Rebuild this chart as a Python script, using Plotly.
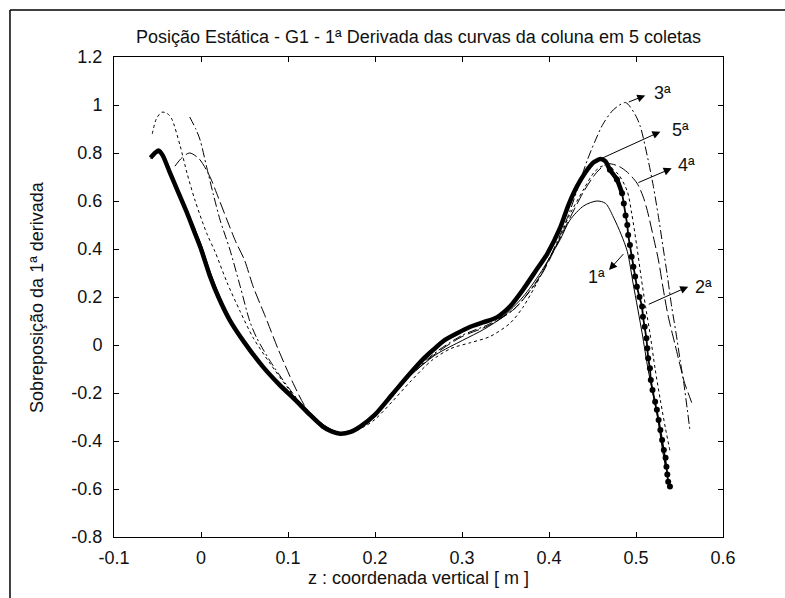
import plotly.graph_objects as go

# ---- data: first-derivative curves of the column, 5 collections ----
# 1st collection (thin solid)
x1 = [-0.058, -0.050, -0.045, -0.035, -0.016, 0.000, 0.012, 0.035, 0.070, 0.110,
      0.140, 0.160, 0.185, 0.210, 0.240, 0.270, 0.301, 0.325, 0.347, 0.370,
      0.390, 0.405, 0.413, 0.424, 0.440, 0.455, 0.465, 0.474, 0.483, 0.490,
      0.497, 0.507, 0.514, 0.524, 0.531, 0.534]
y1 = [0.775, 0.800, 0.795, 0.720, 0.560, 0.420, 0.290, 0.095, -0.080, -0.225,
      -0.330, -0.365, -0.335, -0.250, -0.130, -0.040, 0.020, 0.065, 0.117, 0.200,
      0.300, 0.390, 0.440, 0.520, 0.580, 0.600, 0.590, 0.533, 0.460, 0.390,
      0.250, 0.050, -0.104, -0.285, -0.450, -0.510]

# 2nd collection (dotted)
x2 = [-0.056, -0.051, -0.045, -0.039, -0.034, -0.024, -0.016, -0.007, 0.0066, 0.016,
      0.030, 0.045, 0.060, 0.080, 0.100, 0.120, 0.140, 0.160, 0.185, 0.200,
      0.220, 0.240, 0.265, 0.287, 0.310, 0.332, 0.355, 0.370, 0.386, 0.401,
      0.413, 0.422, 0.440, 0.452, 0.461, 0.470, 0.480, 0.490, 0.495, 0.501,
      0.506, 0.511, 0.516, 0.522, 0.528, 0.534, 0.539]
y2 = [0.880, 0.945, 0.970, 0.965, 0.945, 0.830, 0.715, 0.604, 0.465, 0.390,
      0.260, 0.140, 0.030, -0.080, -0.180, -0.270, -0.335, -0.370, -0.345, -0.310,
      -0.235, -0.155, -0.065, -0.015, 0.010, 0.035, 0.090, 0.157, 0.258, 0.367,
      0.450, 0.530, 0.650, 0.720, 0.745, 0.740, 0.710, 0.640, 0.550, 0.410,
      0.280, 0.160, 0.050, -0.100, -0.230, -0.350, -0.440]

# 3rd collection (dash-dot)
x3 = [-0.013, -0.006, -0.001, 0.0066, 0.014, 0.022, 0.033, 0.045, 0.056, 0.064,
      0.080, 0.100, 0.120, 0.140, 0.160, 0.185, 0.210, 0.240, 0.270, 0.300,
      0.330, 0.360, 0.390, 0.420, 0.444, 0.453, 0.462, 0.474, 0.488, 0.499,
      0.505, 0.514, 0.520, 0.526, 0.531, 0.536, 0.541, 0.546, 0.551, 0.555,
      0.559, 0.562]
y3 = [0.950, 0.900, 0.854, 0.740, 0.630, 0.520, 0.400, 0.245, 0.100, 0.030,
      -0.070, -0.175, -0.265, -0.335, -0.370, -0.340, -0.250, -0.125, -0.030, 0.040,
      0.085, 0.150, 0.290, 0.520, 0.770, 0.850, 0.920, 0.980, 1.010, 0.960,
      0.910, 0.770, 0.660, 0.530, 0.410, 0.290, 0.160, 0.050, -0.070, -0.160,
      -0.270, -0.355]

# 4th collection (dashed)
x4 = [-0.030, -0.022, -0.013, -0.002, 0.0104, 0.018, 0.030, 0.040, 0.050, 0.060,
      0.074, 0.089, 0.106, 0.122, 0.140, 0.160, 0.185, 0.210, 0.240, 0.270,
      0.300, 0.330, 0.360, 0.390, 0.420, 0.440, 0.455, 0.467, 0.480, 0.490,
      0.501, 0.508, 0.513, 0.520, 0.526, 0.531, 0.537, 0.545, 0.551, 0.556,
      0.560, 0.564]
y4 = [0.745, 0.780, 0.800, 0.775, 0.700, 0.632, 0.520, 0.430, 0.354, 0.243,
      0.118, -0.020, -0.160, -0.270, -0.340, -0.370, -0.340, -0.255, -0.130, -0.035,
      0.035, 0.080, 0.150, 0.285, 0.500, 0.640, 0.720, 0.755, 0.745, 0.720,
      0.675, 0.620, 0.560, 0.450, 0.350, 0.240, 0.120, 0.000, -0.090, -0.160,
      -0.200, -0.240]

# 5th collection (thick, point markers)
x5 = [-0.058, -0.053, -0.049, -0.044, -0.036, -0.026, -0.016, -0.008, 0.000, 0.010,
      0.020, 0.033, 0.050, 0.071, 0.090, 0.110, 0.125, 0.140, 0.150, 0.160,
      0.172, 0.183, 0.200, 0.220, 0.240, 0.255, 0.267, 0.280, 0.295, 0.309,
      0.325, 0.340, 0.355, 0.370, 0.385, 0.398, 0.413, 0.422, 0.432, 0.442,
      0.451, 0.459, 0.465, 0.470, 0.478, 0.484, 0.486, 0.488, 0.490, 0.491,
      0.493, 0.495, 0.497, 0.499, 0.501, 0.504, 0.507, 0.508, 0.510, 0.512,
      0.513, 0.514, 0.516, 0.517, 0.519, 0.522, 0.524, 0.526, 0.528, 0.530,
      0.532, 0.534, 0.535, 0.536, 0.537, 0.539]
y5 = [0.780, 0.800, 0.810, 0.790, 0.720, 0.635, 0.550, 0.475, 0.400, 0.290,
      0.200, 0.104, 0.010, -0.090, -0.165, -0.235, -0.290, -0.340, -0.360, -0.370,
      -0.362, -0.340, -0.290, -0.205, -0.120, -0.060, -0.020, 0.020, 0.050, 0.075,
      0.095, 0.115, 0.160, 0.230, 0.310, 0.380, 0.490, 0.580, 0.660, 0.720,
      0.760, 0.775, 0.765, 0.730, 0.690, 0.632, 0.590, 0.540, 0.500, 0.458,
      0.417, 0.368, 0.326, 0.285, 0.243, 0.200, 0.160, 0.118, 0.076, 0.028,
      -0.014, -0.055, -0.097, -0.146, -0.1875, -0.236, -0.270, -0.3125, -0.354, -0.396,
      -0.4375, -0.470, -0.507, -0.540, -0.570, -0.590]

# callouts: (label, arrow tail on curve, arrow head, label position)
labels = ["1ª", "2ª", "3ª", "4ª", "5ª"]
tail_x = [0.487, 0.513, 0.490, 0.501, 0.459]
tail_y = [0.385, 0.167, 1.010, 0.674, 0.775]
head_x = [0.469, 0.560, 0.5106, 0.541, 0.528]
head_y = [0.3125, 0.243, 1.040, 0.736, 0.889]
lab_x = [0.455, 0.578, 0.531, 0.558, 0.551]
lab_y = [0.285, 0.243, 1.049, 0.750, 0.896]

x_ticks = [-0.1, 0.0, 0.1, 0.2, 0.3, 0.4, 0.5, 0.6]
x_tick_text = ["-0.1", "0", "0.1", "0.2", "0.3", "0.4", "0.5", "0.6"]
y_ticks = [-0.8, -0.6, -0.4, -0.2, 0.0, 0.2, 0.4, 0.6, 0.8, 1.0, 1.2]
y_tick_text = ["-0.8", "-0.6", "-0.4", "-0.2", "0", "0.2", "0.4", "0.6", "0.8", "1", "1.2"]

FONT = "Liberation Sans, Arial, sans-serif"
INK = "#111111"
FS = 18

fig = go.Figure()

def curve(x, y, width, dash):
    fig.add_trace(go.Scatter(x=x, y=y, mode="lines",
                             line=dict(color="black", width=width, dash=dash,
                                       shape="spline", smoothing=0.8),
                             showlegend=False, hoverinfo="skip"))

curve(x1, y1, 1.0, "solid")
curve(x2, y2, 1.0, "3px,3px")
curve(x3, y3, 1.0, "9px,3px,2px,3px")
curve(x4, y4, 1.0, "12px,4px")

# 5th: dense part drawn as a heavy line, sparse falling tail as dots
peak = y5.index(max(y5[30:]), 30)
split = next(i for i in range(peak, len(y5)) if y5[i] < 0.65)
fig.add_trace(go.Scatter(x=x5[:split + 1], y=y5[:split + 1], mode="lines",
                         line=dict(color="black", width=4.5, shape="spline", smoothing=0.6),
                         showlegend=False, hoverinfo="skip"))
fig.add_trace(go.Scatter(x=x5[split - 2:], y=y5[split - 2:], mode="lines+markers",
                         line=dict(color="black", width=1.8),
                         marker=dict(color="black", size=6, symbol="circle"),
                         showlegend=False, hoverinfo="skip"))

annotations = []
for lab, tx, ty, hx, hy, lx, ly in zip(labels, tail_x, tail_y, head_x, head_y, lab_x, lab_y):
    annotations.append(dict(x=hx, y=hy, ax=tx, ay=ty, xref="x", yref="y",
                            axref="x", ayref="y", text="", showarrow=True,
                            arrowhead=2, arrowsize=1.6, arrowwidth=1, arrowcolor="black"))
    annotations.append(dict(x=lx, y=ly, xref="x", yref="y", text=lab, showarrow=False,
                            font=dict(family=FONT, size=FS, color=INK),
                            xanchor="center", yanchor="middle"))

# title and axis titles
annotations.append(dict(x=0.5, y=1.0417, xref="paper", yref="paper", showarrow=False,
                        text="Posição Estática - G1 - 1ª Derivada das curvas da coluna em 5 coletas",
                        font=dict(family=FONT, size=FS, color=INK),
                        xanchor="center", yanchor="middle"))
annotations.append(dict(x=0.5, y=-0.0854, xref="paper", yref="paper", showarrow=False,
                        text="z : coordenada vertical [ m ]",
                        font=dict(family=FONT, size=FS, color=INK),
                        xanchor="center", yanchor="middle"))
annotations.append(dict(x=-0.1265, y=0.5, xref="paper", yref="paper", showarrow=False,
                        text="Sobreposição da 1ª derivada", textangle=-90,
                        font=dict(family=FONT, size=FS, color=INK),
                        xanchor="center", yanchor="middle"))

axis_common = dict(showline=True, linecolor="black", linewidth=1, mirror="ticks",
                   ticks="inside", ticklen=5, tickwidth=1, tickcolor="black",
                   showgrid=False, zeroline=False,
                   tickfont=dict(family=FONT, size=FS, color=INK))

fig.update_layout(
    width=785, height=598,
    margin=dict(l=114, r=62, t=57, b=61, pad=0),
    paper_bgcolor="white", plot_bgcolor="white",
    xaxis=dict(range=[-0.1, 0.6], tickmode="array", tickvals=x_ticks, ticktext=x_tick_text,
               ticklabelstandoff=4, **axis_common),
    yaxis=dict(range=[-0.8, 1.2], tickmode="array", tickvals=y_ticks, ticktext=y_tick_text,
               ticklabelstandoff=7, **axis_common),
    annotations=annotations,
    shapes=[
        dict(type="line", xref="paper", yref="paper", x0=-0.1708, x1=-0.1708, y0=1.098, y1=-0.2,
             line=dict(color="black", width=1.5)),
        dict(type="line", xref="paper", yref="paper", x0=-0.1708, x1=1.2, y0=1.098, y1=1.098,
             line=dict(color="black", width=1.5)),
    ],
)

fig.write_html("out.html")
